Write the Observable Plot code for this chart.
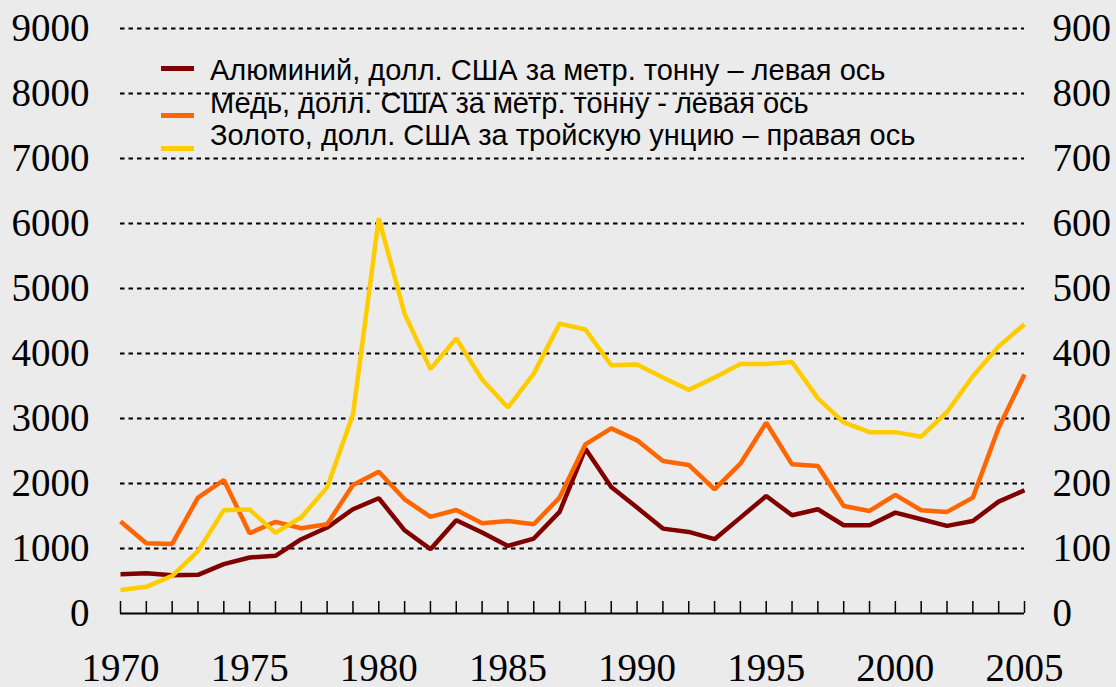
<!DOCTYPE html>
<html>
<head>
<meta charset="utf-8">
<script src="https://cdn.jsdelivr.net/npm/d3@7"></script>
<script src="https://cdn.jsdelivr.net/npm/@observablehq/plot@0.6"></script>
<style>
  html, body { margin: 0; padding: 0; background: #ebebeb; }
  #wrap { position: relative; width: 1116px; height: 687px; background: #ebebeb; overflow: hidden; }
  #legend { position: absolute; left: 0; top: 0; font-family: "Liberation Sans", Arial, sans-serif; font-size: 29px; color: #000; }
  .sw { position: absolute; width: 33px; height: 5px; }
  .lt { position: absolute; white-space: nowrap; line-height: 1; }
</style>
</head>
<body>
<div id="wrap"><div id="legend"></div></div>
<script>
const years = [1970,1971,1972,1973,1974,1975,1976,1977,1978,1979,1980,1981,1982,1983,1984,1985,1986,1987,1988,1989,1990,1991,1992,1993,1994,1995,1996,1997,1998,1999,2000,2001,2002,2003,2004,2005];
const labelYears = [1970,1975,1980,1985,1990,1995,2000,2005];
const labelYearText = ["1970","1975","1980","1985","1990","1995","2000","2005"];

const aluminium = [605,620,590,595,759,861,887,1143,1322,1604,1773,1280,990,1435,1245,1040,1153,1563,2535,1947,1629,1306,1255,1143,1475,1808,1511,1604,1358,1358,1552,1450,1348,1424,1721,1896];
const copper = [1414,1082,1071,1783,2054,1235,1409,1312,1373,1977,2182,1757,1486,1593,1389,1424,1373,1783,2603,2848,2664,2346,2285,1911,2305,2935,2295,2269,1655,1578,1824,1588,1563,1783,2858,3678];
const gold = [36,41,58,96,159,160,124,148,194,306,608,461,376,423,360,317,369,446,437,382,383,363,344,363,384,384,387,331,294,279,279,272,310,365,411,445];

const leftTicks = [0,1000,2000,3000,4000,5000,6000,7000,8000,9000];
const leftTickLabels = ["0","1000","2000","3000","4000","5000","6000","7000","8000","9000"];
const rightTickLabels = ["0","100","200","300","400","500","600","700","800","900"];
const gridValues = [1000,2000,3000,4000,5000,6000,7000,8000,9000];
const goldToLeft = 10; // right axis is left axis / 10
const tickLength = 185; // year tick marks, in left-axis units (~12px)

const seriesNames = [
  "Алюминий, долл. США за метр. тонну – левая ось",
  "Медь, долл. США за метр. тонну - левая ось",
  "Золото, долл. США за тройскую унцию – правая ось"
];
const seriesColors = ["#800000", "#ff6600", "#ffcc00"];

const rows = years.map((y, i) => ({year: y, al: aluminium[i], cu: copper[i], au: gold[i] * goldToLeft}));

const serif = "'Liberation Serif', 'Times New Roman', serif";

const chart = Plot.plot({
  width: 1116,
  height: 687,
  marginLeft: 120,
  marginRight: 92,
  marginTop: 28,
  marginBottom: 74,
  style: {background: "transparent", overflow: "visible"},
  x: {domain: [1970, 2005]},
  y: {domain: [0, 9000]},
  marks: [
    Plot.ruleY(gridValues, {stroke: "#000", strokeWidth: 2, strokeDasharray: "4.5,4"}),
    Plot.ruleX(years, {x: d => d, y1: 0, y2: tickLength, stroke: "#000", strokeWidth: 1.5}),
    Plot.ruleY([0], {stroke: "#000", strokeWidth: 2}),
    Plot.axisX({ticks: labelYears, tickSize: 0, tickPadding: 40, tickFormat: (d, i) => labelYearText[i], fontSize: 39, fontFamily: serif, fill: "#000", label: null}),
    Plot.axisY({ticks: leftTicks, tickSize: 0, tickPadding: 31, tickFormat: (d, i) => leftTickLabels[i], fontSize: 39, fontFamily: serif, fill: "#000", label: null}),
    Plot.axisY({anchor: "right", ticks: leftTicks, tickSize: 0, tickPadding: 28, tickFormat: (d, i) => rightTickLabels[i], fontSize: 39, fontFamily: serif, fill: "#000", label: null}),
    Plot.lineY(rows, {x: "year", y: "al", stroke: seriesColors[0], strokeWidth: 4.5, strokeLinejoin: "miter", strokeLinecap: "butt"}),
    Plot.lineY(rows, {x: "year", y: "cu", stroke: seriesColors[1], strokeWidth: 4.5, strokeLinejoin: "miter", strokeLinecap: "butt"}),
    Plot.lineY(rows, {x: "year", y: "au", stroke: seriesColors[2], strokeWidth: 4.5, strokeLinejoin: "miter", strokeLinecap: "butt"})
  ]
});
const wrap = document.getElementById("wrap");
wrap.insertBefore(chart, wrap.firstChild);

// legend (HTML overlay)
const legend = document.getElementById("legend");
const swatchTops = [66, 113, 146];
const textTops = [55.5, 88.5, 120.5];
seriesNames.forEach((name, i) => {
  const sw = document.createElement("div");
  sw.className = "sw";
  sw.style.left = "161px";
  sw.style.top = swatchTops[i] + "px";
  sw.style.background = seriesColors[i];
  legend.appendChild(sw);
  const t = document.createElement("div");
  t.className = "lt";
  t.style.left = "210px";
  t.style.top = textTops[i] + "px";
  t.textContent = name;
  legend.appendChild(t);
});
</script>
</body>
</html>
